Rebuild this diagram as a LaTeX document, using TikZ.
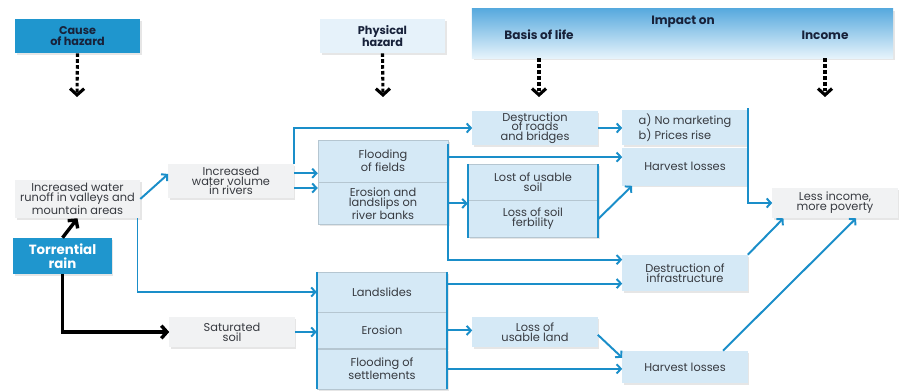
\documentclass[tikz,border=0pt]{standalone}
\usepackage{fontspec}
\setmainfont{Poppins}
\usetikzlibrary{arrows.meta}
\usetikzlibrary{positioning}
\usetikzlibrary{shadows}
\definecolor{hazardblue}{RGB}{31,150,206}
\definecolor{flowblue}{RGB}{26,142,201}
\definecolor{cellblue}{RGB}{213,233,246}
\definecolor{cellgray}{RGB}{241,242,243}
\definecolor{headtext}{RGB}{24,34,58}
\definecolor{celltext}{RGB}{55,58,64}
\tikzset{>={Straight Barb[length=3pt,width=6.5pt]}}
\tikzset{
  cell/.style={align=center, inner sep=0pt, minimum width=3.125cm, text=celltext,
    font=\fontsize{8.1}{6.9}\selectfont,
    drop shadow={shadow xshift=1.2pt, shadow yshift=-1.2pt, opacity=0.2}},
  bluecell/.style={cell, fill=cellblue},
  graycell/.style={cell, fill=cellgray},
  stackcell/.style={bluecell, minimum width=3.25cm, draw=cellblue!85!black, line width=0.3pt},
  headbox/.style={align=center, inner sep=0pt, minimum width=3.125cm, minimum height=0.85cm,
    text=headtext, font=\bfseries\fontsize{8}{7.8}\selectfont,
    drop shadow={shadow xshift=1.2pt, shadow yshift=-1.2pt, opacity=0.2}},
  headtitle/.style={text=headtext, font=\bfseries\fontsize{8.6}{9}\selectfont},
  flow/.style={->, color=flowblue, line width=1.4pt},
  bar/.style={color=flowblue, line width=1.8pt},
  rainflow/.style={->, line width=2.4pt, >={Straight Barb[length=4pt,width=9pt]}},
  hazardflow/.style={->, line width=2.2pt, dash pattern=on 2.6pt off 1.6pt,
    >={Straight Barb[length=4.5pt,width=10pt]}}
}
\begin{document}
\begin{tikzpicture}[x=0.025cm, y=-0.025cm]
    \useasboundingbox (0,0) rectangle (902,392);
    \node [headbox, fill=hazardblue] (Cause) at (77.5,36) {Cause\\of hazard};
    \node [headbox, fill=cellblue!60] (Physical) at (382.5,36) {Physical\\hazard};
    \node [headbox, minimum width=10.525cm, minimum height=1.225cm,
        top color={rgb,255:red,88;green,170;blue,222}, bottom color={rgb,255:red,230;green,243;blue,251}] (Impact) at (682.5,33.5) {};
    \node [headtitle] (ImpactOn) at (683,22) {Impact on};
    \node [headtitle] (BasisHead) at (539,35) {Basis of life};
    \node [headtitle] (IncomeHead) at (825,35) {Income};
    \coordinate (CauseEnd) at (77,97);
    \coordinate (PhysicalEnd) at (383,97);
    \coordinate (BasisEnd) at (539,97);
    \coordinate (IncomeEnd) at (825,97);
    \draw [hazardflow] (Cause.south) -- (CauseEnd);
    \draw [hazardflow] (Physical.south) -- (PhysicalEnd);
    \draw [hazardflow] (Impact.south -| BasisHead) -- (BasisEnd);
    \draw [hazardflow] (Impact.south -| IncomeHead) -- (IncomeEnd);

    \node [graycell, minimum height=0.95cm] (Runoff) at (77.5,199) {Increased water\\runoff in valleys and\\mountain areas};
    \node [fill=hazardblue, text=white, align=center, inner sep=0pt, minimum width=2.45cm, minimum height=0.9cm,
        font=\bfseries\fontsize{9.5}{9.8}\selectfont,
        drop shadow={shadow xshift=1.2pt, shadow yshift=-1.2pt, opacity=0.2}] (Rain) at (62.5,256) {Torrential\\rain};
    \node [graycell, minimum height=0.85cm] (WaterVol) at (231,181) {Increased\\water volume\\in rivers};
    \node [graycell, minimum height=0.75cm] (Soil) at (232,332) {Saturated\\soil};

    \node [stackcell, minimum height=1.05cm] (Flooding) at (383,161) {Flooding\\of fields};
    \node [stackcell, minimum height=1.05cm, below=0pt of Flooding] (Erosion) {Erosion and\\landslips on\\river banks};
    \node [stackcell, minimum height=1cm] (Landslides) at (382,292) {Landslides};
    \node [stackcell, minimum height=0.9cm, below=0pt of Landslides] (ErosionB) {Erosion};
    \node [stackcell, minimum height=1cm, below=0pt of ErosionB] (Settlements) {Flooding of\\settlements};

    \node [bluecell, minimum height=0.85cm] (Roads) at (535,128) {Destruction\\of roads\\and bridges};
    \node [stackcell, minimum height=0.9cm] (LostSoil) at (533,182) {Lost of usable\\soil};
    \node [stackcell, minimum height=0.925cm, below=0pt of LostSoil] (Fertility) {Loss of soil\\ferbility};
    \node [bluecell, minimum height=0.75cm] (UsableLand) at (535,332) {Loss of\\usable land};

    \node [bluecell, minimum height=0.875cm, align=left] (Marketing) at (685,127.5) {a) No marketing\\b) Prices rise};
    \node [bluecell, minimum height=0.95cm, below=1.4pt of Marketing] (HarvestA) {Harvest losses};
    \node [bluecell, minimum height=0.9cm] (Infra) at (685,273) {Destruction of\\infrastructure};
    \node [bluecell, minimum height=0.8cm] (HarvestB) at (685,367) {Harvest losses};
    \node [graycell, minimum height=0.75cm] (Income) at (835,203) {Less income,\\more poverty};

    \draw [rainflow] (Rain.north) -- (Runoff.south);
    \draw [rainflow] (Rain.south) |- (Soil.west);
    \draw [flow] (Runoff.east) -- ([yshift=5pt]WaterVol.west);
    \draw [flow] ([xshift=-2pt]Runoff.south east) |- (Landslides.west);
    \draw [flow] (WaterVol.north east) |- (Roads.west);
    \draw [flow] ([yshift=5.5pt]WaterVol.east) -- ([yshift=5.5pt]WaterVol.east -| Flooding.west);
    \draw [flow] ([yshift=-5pt]WaterVol.east) -- ([yshift=-5pt]WaterVol.east -| Erosion.west);
    \draw [flow] (Soil.east) -- (Soil.east -| ErosionB.west);

    \draw [bar] (Landslides.north west) -- (Settlements.south west);
    \draw [bar] (Landslides.north east) -- (Settlements.south east);
    \draw [bar] (LostSoil.north west) -- (Fertility.south west);
    \draw [bar] (LostSoil.north east) -- (Fertility.south east);
    \draw [flow] ([yshift=-3pt]Flooding.north east) |- ([yshift=-3.5pt]Infra.north west);
    \draw [flow] ([yshift=-7pt]HarvestA.north west -| Flooding.east) -- ([yshift=-7pt]HarvestA.north west);
    \draw [flow] (Erosion.east) -- (Erosion.east -| Fertility.west);
    \draw [flow] ([yshift=6pt]Landslides.east) -- ([yshift=6pt]Landslides.east -| Infra.west);
    \draw [flow] (ErosionB.east) -- (ErosionB.east -| UsableLand.west);
    \draw [flow] (Settlements.east) -- (Settlements.east -| HarvestB.west);

    \draw [flow] (Roads.east) -- (Roads.east -| Marketing.west);
    \draw [flow] (Fertility.east) -- ([xshift=7pt]HarvestA.south west);
    \draw [flow] ([yshift=-2pt]UsableLand.east) -- ([yshift=-5pt]HarvestB.north west);
    \draw [flow] ([yshift=1pt]Marketing.north east) |- (Income.west);
    \draw [flow] (Infra.north east) -- ([xshift=8pt]Income.south west);
    \draw [flow] ([xshift=27pt]HarvestB.north) -- ([xshift=15pt]Income.south);
\end{tikzpicture}
\end{document}
